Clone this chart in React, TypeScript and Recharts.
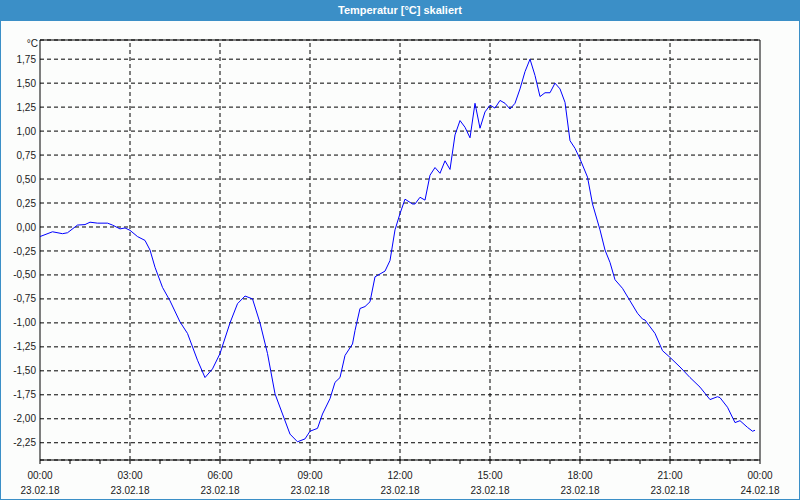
import React from 'react';
import { LineChart, Line, XAxis, YAxis, CartesianGrid, ReferenceLine, ReferenceArea } from 'recharts';

// Messzeit in Minuten ab 23.02.18 00:00
const minutes = [
  0, 25, 45, 55, 75, 90, 100, 115, 135, 145, 160, 170, 180, 195, 210, 220, 230, 245, 260, 280,
  295, 315, 330, 345, 360, 380, 395, 410, 425, 440, 455, 470, 485, 500, 515, 530, 540, 555, 565, 580,
  590, 600, 610, 625, 630, 640, 650, 660, 670, 680, 690, 700, 710, 720, 730, 745, 750, 760, 770, 780,
  790, 800, 810, 820, 830, 840, 850, 860, 870, 880, 890, 900, 910, 920, 930, 940, 950, 960, 970, 980,
  990, 1000, 1010, 1020, 1030, 1040, 1050, 1060, 1070, 1080, 1095, 1105, 1120, 1130, 1140, 1150, 1165, 1180, 1195, 1205,
  1210, 1230, 1245, 1260, 1280, 1300, 1320, 1340, 1355, 1360, 1375, 1390, 1400, 1415, 1425, 1430,
];

const temps = [
  -0.1, -0.05, -0.07, -0.06, 0.02, 0.025, 0.05, 0.04, 0.04, 0.02, -0.02, -0.01, -0.035, -0.1, -0.14, -0.24, -0.42, -0.63, -0.77, -0.99,
  -1.11, -1.39, -1.57, -1.48, -1.32, -1.0, -0.8, -0.72, -0.75, -1.0, -1.32, -1.74, -1.95, -2.16, -2.24, -2.21, -2.13, -2.1, -1.95, -1.79,
  -1.62, -1.57, -1.34, -1.22, -1.08, -0.85, -0.83, -0.78, -0.52, -0.49, -0.46, -0.35, -0.03, 0.14, 0.29, 0.24, 0.24, 0.31, 0.28, 0.54,
  0.62, 0.56, 0.69, 0.6, 0.96, 1.11, 1.04, 0.93, 1.29, 1.03, 1.2, 1.27, 1.24, 1.32, 1.29, 1.23, 1.29, 1.44, 1.62, 1.75,
  1.58, 1.36, 1.4, 1.4, 1.5, 1.44, 1.3, 0.9, 0.82, 0.71, 0.52, 0.24, -0.03, -0.24, -0.37, -0.55, -0.64, -0.77, -0.9, -0.96,
  -0.97, -1.11, -1.29, -1.36, -1.46, -1.57, -1.67, -1.8, -1.77, -1.78, -1.88, -2.04, -2.02, -2.09, -2.13, -2.12,
];

const yTicks = [-2.25, -2, -1.75, -1.5, -1.25, -1, -0.75, -0.5, -0.25, 0, 0.25, 0.5, 0.75, 1, 1.25, 1.5, 1.75];
const hourTicks = [0, 60, 120, 180, 240, 300, 360, 420, 480, 540, 600, 660, 720, 780, 840, 900, 960, 1020, 1080, 1140, 1200, 1260, 1320, 1380, 1440];
const majorTicks = [180, 360, 540, 720, 900, 1080, 1260];
const timeLabels: Record<number, [string, string]> = {
  0: ['00:00', '23.02.18'],
  180: ['03:00', '23.02.18'],
  360: ['06:00', '23.02.18'],
  540: ['09:00', '23.02.18'],
  720: ['12:00', '23.02.18'],
  900: ['15:00', '23.02.18'],
  1080: ['18:00', '23.02.18'],
  1260: ['21:00', '23.02.18'],
  1440: ['00:00', '24.02.18'],
};

const data = minutes.map((m, i) => ({ t: m, temp: temps[i] }));

const FONT = '"Liberation Sans", Arial, sans-serif';

function TimeTick(props: any) {
  const { x, y, payload } = props;
  const lbl = timeLabels[payload.value];
  if (!lbl) return null;
  return (
    <g>
      <text x={x} y={y + 13} textAnchor="middle" fontSize={10} fontFamily={FONT} fill="#1a1a1a">{lbl[0]}</text>
      <text x={x} y={y + 28} textAnchor="middle" fontSize={10} fontFamily={FONT} fill="#1a1a1a">{lbl[1]}</text>
    </g>
  );
}

export default function App() {
  return (
    <div style={{ position: 'absolute', left: 0, top: 0, width: 800, height: 500, boxSizing: 'border-box', border: '1px solid #3b8fc7', borderTop: 'none', background: '#fcfdfc', overflow: 'hidden' }}>
      <div style={{ height: 21, background: '#3b8fc7', color: '#fff', fontFamily: FONT, fontWeight: 'bold', fontSize: 11, lineHeight: '21px', textAlign: 'center' }}>
        Temperatur [°C] skaliert
      </div>
      <div style={{ position: 'absolute', left: 0, top: 38, width: 37, textAlign: 'right', fontFamily: FONT, fontSize: 10, color: '#1a1a1a' }}>°C</div>
      <div style={{ position: 'absolute', left: -1, top: 0 }}>
        <LineChart width={800} height={500} data={data} margin={{ top: 40, right: 40, left: 0, bottom: 0 }}>
          <CartesianGrid vertical={false} stroke="#000" strokeDasharray="4 3" />
          {majorTicks.map((m) => (
            <ReferenceLine key={m} x={m} stroke="#000" strokeDasharray="4 3" />
          ))}
          <XAxis
            dataKey="t"
            type="number"
            domain={[0, 1440]}
            ticks={hourTicks}
            interval={0}
            height={40}
            tickSize={4}
            tickLine={{ stroke: '#000' }}
            axisLine={false}
            tick={<TimeTick />}
          />
          <YAxis
            type="number"
            domain={[-2.43, 1.95]}
            ticks={yTicks}
            interval={0}
            width={40}
            tickLine={false}
            axisLine={false}
            tickSize={0}
            tickMargin={4}
            tick={{ fontSize: 10, fontFamily: FONT, fill: '#1a1a1a' }}
            tickFormatter={(v: number) => v.toFixed(2).replace('.', ',')}
          />
          <ReferenceArea x1={0} x2={1440} y1={-2.43} y2={1.95} fill="none" stroke="#000" strokeWidth={1} />
          <Line
            type="linear"
            dataKey="temp"
            stroke="#0000ff"
            strokeWidth={1}
            dot={false}
            isAnimationActive={false}
          />
        </LineChart>
      </div>
    </div>
  );
}
